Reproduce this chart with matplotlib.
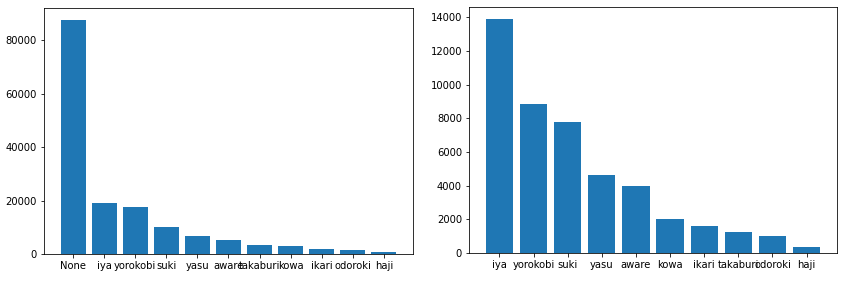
import matplotlib
matplotlib.use("Agg")
import matplotlib.pyplot as plt

# Left chart: all labels including None
left_labels = ["None", "iya", "yorokobi", "suki", "yasu", "aware", "takaburi", "kowa", "ikari", "odoroki", "haji"]
left_counts = [87750, 19100, 17600, 10100, 6750, 5250, 3400, 3000, 1900, 1500, 750]

# Right chart: without None
right_labels = ["iya", "yorokobi", "suki", "yasu", "aware", "kowa", "ikari", "takaburi", "odoroki", "haji"]
right_counts = [13920, 8870, 7800, 4650, 4000, 2040, 1620, 1270, 1030, 380]

fig = plt.figure(figsize=(852 / 72, 290 / 72), dpi=72)
ax1 = fig.add_axes([44 / 852, 1 - 254 / 290, 369 / 852, 246 / 290])
ax2 = fig.add_axes([469 / 852, 1 - 253 / 290, 368 / 852, 246 / 290])

ax1.bar(left_labels, left_counts, color="#1f77b4")
ax2.bar(right_labels, right_counts, color="#1f77b4")

for ax in (ax1, ax2):
    ax.tick_params(labelsize=10)

fig.savefig("out.png", dpi=72)
